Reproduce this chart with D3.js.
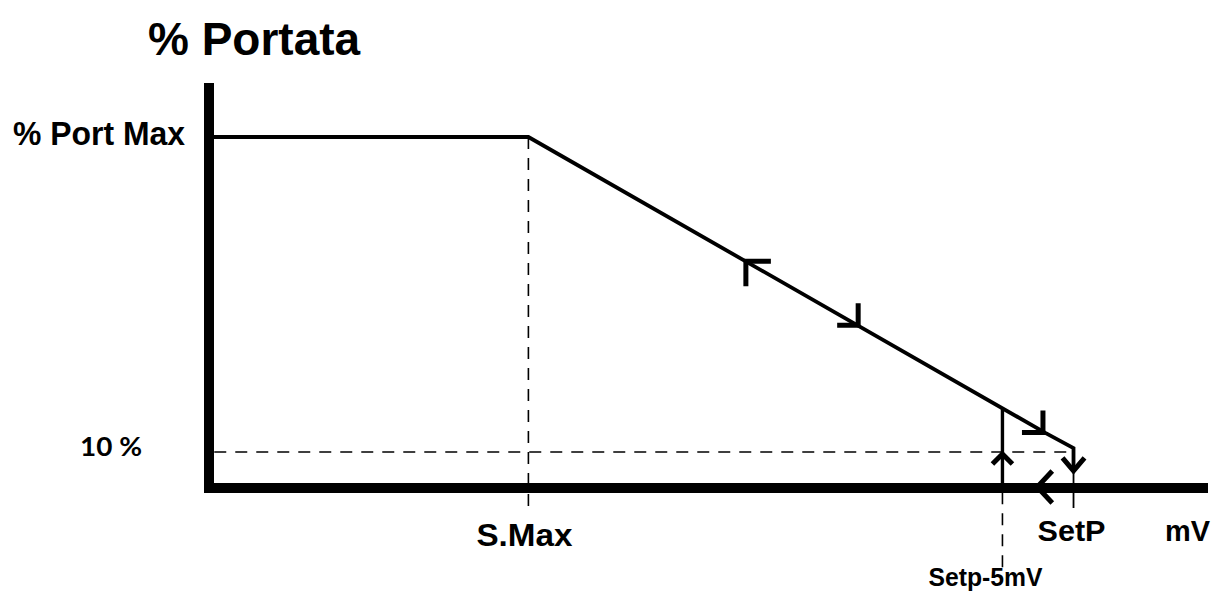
<!DOCTYPE html>
<html lang="it">
<head>
    <meta charset="UTF-8">
    <title>% Portata</title>
    <script src="https://d3js.org/d3.v7.min.js"></script>
    <style>
        body { margin: 0; background: #fff; }
        text { font-family: "Liberation Sans", Arial, sans-serif; font-weight: bold; fill: #000; }
        .axis-line { stroke: #000; stroke-width: 10px; }
        .curve { fill: none; stroke: #000; stroke-width: 3.8px; stroke-linejoin: miter; }
        .guide { stroke: #000; stroke-width: 1.6px; stroke-dasharray: 12, 9; fill: none; }
        .thin { stroke: #000; stroke-width: 1.8px; fill: none; }
        .arrow { fill: none; stroke: #000; stroke-width: 5px; stroke-linecap: butt; }
    </style>
</head>
<body>
    <svg width="1215" height="593"></svg>
    <script>
        // curve: portata (%) vs mV
        const curveX = [0, 22.4, 58.8, 60.75, 60.75];
        const curveY = [100, 100, 15.4, 11.1, 4.6];

        // reference marks on the mV axis
        const xMarkNames = ["S.Max", "Setp-5mV", "SetP"];
        const xMarkValues = [22.4, 55.75, 60.75];

        // reference marks on the % axis
        const yMarkNames = ["% Port Max", "10 %"];
        const yMarkValues = [100, 10];

        // direction arrows drawn on the path
        const arrowX = [37.7, 45.6, 58.6, 55.75, 60.75, 58.2];
        const arrowY = [64.5, 46.2, 15.6, 9.4, 4.6, 0];
        const arrowDir = ["upleft", "downright", "downright", "up", "down", "left"];

        const svg = d3.select("svg");

        const x = d3.scaleLinear().domain([0, 70]).range([210, 1205]);
        const y = d3.scaleLinear().domain([0, 100]).range([487, 137]);

        // title
        svg.append("text")
            .attr("x", 148).attr("y", 55)
            .style("font-size", "46px")
            .text("% Portata");

        // dashed guide lines
        svg.append("line").attr("class", "guide")
            .attr("x1", x(xMarkValues[0])).attr("x2", x(xMarkValues[0]))
            .attr("y1", y(yMarkValues[0])).attr("y2", y(-6.5));
        svg.append("line").attr("class", "guide")
            .attr("x1", x(0.3)).attr("x2", x(xMarkValues[2]))
            .attr("y1", y(yMarkValues[1])).attr("y2", y(yMarkValues[1]));
        svg.append("line").attr("class", "guide")
            .attr("x1", x(xMarkValues[1])).attr("x2", x(xMarkValues[1]))
            .attr("y1", y(-1.5)).attr("y2", y(-22.9));

        // SetP thin marker
        svg.append("line").attr("class", "thin")
            .attr("x1", x(xMarkValues[2])).attr("x2", x(xMarkValues[2]))
            .attr("y1", y(curveY[4])).attr("y2", y(-6));

        // Setp-5mV solid riser from axis to curve
        const riserTop = curveY[1] + (xMarkValues[1] - curveX[1]) * (curveY[2] - curveY[1]) / (curveX[2] - curveX[1]);
        svg.append("line")
            .attr("stroke", "#000").attr("stroke-width", 3.4)
            .attr("x1", x(xMarkValues[1])).attr("x2", x(xMarkValues[1]))
            .attr("y1", y(0)).attr("y2", y(riserTop));

        // axes
        svg.append("line").attr("class", "axis-line")
            .attr("x1", x(0) - 1).attr("x2", x(0) - 1)
            .attr("y1", y(115.4)).attr("y2", y(-1.7));
        svg.append("line").attr("class", "axis-line")
            .attr("x1", x(0) - 5).attr("x2", x(70) + 3)
            .attr("y1", y(-0.3)).attr("y2", y(-0.3));

        // curve
        const pts = curveX.map((d, i) => [x(d), y(curveY[i])]);
        svg.append("path").attr("class", "curve")
            .attr("d", d3.line()(pts));

        // arrows
        const shapes = {
            upleft: [[25, 0], [0, 0], [0, 25]],
            downright: [[-21, 0], [0, 0], [0, -22]],
            up: [[-10, 10], [0, 0], [10, 10]],
            down: [[-11, -13], [0, 0], [11, -13]],
            left: [[15, -16], [0, 0], [15, 16]]
        };
        arrowX.forEach((d, i) => {
            const cx = x(d), cy = y(arrowY[i]);
            const s = shapes[arrowDir[i]].map(p => [cx + p[0], cy + p[1]]);
            svg.append("path").attr("class", "arrow")
                .attr("d", d3.line()(s));
        });

        // y labels
        svg.append("text")
            .attr("x", 13).attr("y", y(yMarkValues[0]) + 8)
            .attr("textLength", 172).attr("lengthAdjust", "spacingAndGlyphs")
            .style("font-size", "34px")
            .text(yMarkNames[0]);
        svg.append("text")
            .attr("x", 80).attr("y", y(yMarkValues[1]) + 4)
            .attr("textLength", 62).attr("lengthAdjust", "spacingAndGlyphs")
            .style("font-family", "Lato, 'Open Sans', sans-serif")
            .style("font-size", "26px")
            .text(yMarkNames[1]);

        // x labels
        svg.append("text")
            .attr("x", x(xMarkValues[0]) - 4).attr("y", 546)
            .attr("text-anchor", "middle")
            .attr("textLength", 96).attr("lengthAdjust", "spacingAndGlyphs")
            .style("font-size", "31px")
            .text(xMarkNames[0]);
        svg.append("text")
            .attr("x", x(xMarkValues[1]) - 17).attr("y", 586)
            .attr("text-anchor", "middle")
            .attr("textLength", 114).attr("lengthAdjust", "spacingAndGlyphs")
            .style("font-size", "25px")
            .text(xMarkNames[1]);
        svg.append("text")
            .attr("x", x(xMarkValues[2]) - 2).attr("y", 541)
            .attr("text-anchor", "middle")
            .attr("textLength", 68).attr("lengthAdjust", "spacingAndGlyphs")
            .style("font-size", "29px")
            .text(xMarkNames[2]);
        svg.append("text")
            .attr("x", 1210).attr("y", 541)
            .attr("text-anchor", "end")
            .attr("textLength", 45).attr("lengthAdjust", "spacingAndGlyphs")
            .style("font-size", "29px")
            .text("mV");
    </script>
</body>
</html>
